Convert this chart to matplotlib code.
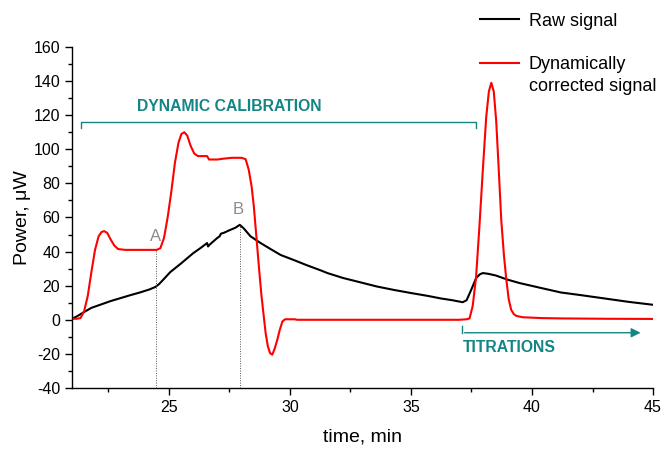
import matplotlib
matplotlib.use('Agg')

import matplotlib.pyplot as plt
from matplotlib.ticker import MultipleLocator

plt.rcParams['font.family'] = ['Liberation Sans', 'DejaVu Sans']
plt.rcParams['axes.unicode_minus'] = False

# === Data ===
red_t = [21.0, 21.2, 21.35, 21.5, 21.65, 21.8, 21.95, 22.1, 22.22, 22.33, 22.45, 22.6, 22.75, 22.9,
         23.2, 24.0, 24.5, 24.65, 24.8, 24.95, 25.1, 25.25, 25.4, 25.52, 25.64, 25.76, 25.9, 26.05,
         26.2, 26.4, 26.58, 26.62, 26.66, 27.0, 27.26, 27.6, 28.0, 28.17, 28.3, 28.42, 28.51, 28.62,
         28.72, 28.82, 28.92, 29.0, 29.09, 29.18, 29.27, 29.37, 29.48, 29.58, 29.69, 29.8, 29.9,
         30.2, 30.3, 33.0, 37.0, 37.3, 37.42, 37.55, 37.69, 37.83, 37.97, 38.11, 38.22, 38.32,
         38.42, 38.52, 38.62, 38.73, 38.84, 38.94, 39.04, 39.14, 39.25, 39.35, 39.6, 40.4, 41.2,
         43.0, 45.0]
red_v = [0.6, 0.6, 1.0, 5, 14, 28, 41, 49, 51.5, 52, 51, 47, 43.5, 41.5,
         41, 41, 41, 42, 48, 60, 75, 92, 104, 109, 110, 108, 102, 97.5,
         96, 96, 96, 95, 94, 94, 94.5, 95, 95, 94.2, 88, 78, 66.5, 48,
         31, 15, 2, -8, -15.6, -19.5, -20.5, -17, -11.7, -6, -1, 0.3, 0.3,
         0.3, 0, 0, 0, 0.3, 0.8, 8, 25, 55, 88, 119, 134, 139,
         134, 117, 90, 58.7, 38, 23.5, 12, 5.9, 3.3, 2.3, 1.5, 1, 0.8,
         0.6, 0.5]

raw_t = [21.0, 21.2, 21.47, 21.8, 22.2, 22.6, 23.0, 23.4, 23.8, 24.2, 24.45, 24.6, 24.8, 25.06,
         25.5, 26.0, 26.3, 26.58, 26.62, 26.68, 26.8, 27.0, 27.1, 27.15, 27.27, 27.5, 27.75, 27.93,
         28.1, 28.37, 28.79, 29.2, 29.62, 30.17, 30.7, 31.27, 31.55, 32.2, 32.93, 33.6, 34.3, 35.0,
         35.7, 36.24, 36.7, 37.14, 37.3, 37.49, 37.69, 37.85, 37.97, 38.18, 38.5, 39.0, 39.5, 40.39,
         41.2, 42.0, 42.5, 43.0, 44.0, 45.0]
raw_v = [0.6, 2, 4.3, 7, 9, 11, 12.7, 14.4, 16, 17.8, 19.3, 21, 24, 28,
         33, 39, 42, 45, 43, 44, 45.5, 48, 49, 50.5, 51, 52.5, 54, 55.7,
         53.5, 49, 45, 41.5, 38, 35, 32, 29, 27.4, 24.5, 21.9, 19.5, 17.5, 15.7,
         14, 12.5, 11.5, 10.3, 11.5, 17.6, 24.4, 26.7, 27.4, 27, 26, 23.5, 21.5, 18.6,
         16, 14.5, 13.5, 12.5, 10.5, 8.8]

# points A and B (time, value where the dotted line stops)
point_a = (24.48, 41)
point_b = (27.93, 55.7)

teal = '#138585'

# === Figure ===
fig = plt.figure(figsize=(6.65, 4.5), dpi=100)
ax = fig.add_axes([0.1083, 0.1378, 0.8737, 0.7578])

ax.plot(raw_t, raw_v, color='black', lw=1.5, label='Raw signal')
ax.plot(red_t, red_v, color='red', lw=1.5, label='Dynamically')

# dotted markers for A and B
ax.plot([point_a[0], point_a[0]], [-40, point_a[1]], color='#555555', lw=0.7, ls=(0, (1, 1.5)))
ax.plot([point_b[0], point_b[0]], [-40, point_b[1]], color='#555555', lw=0.7, ls=(0, (1, 1.5)))
ax.text(point_a[0] - 0.05, 49, 'A', color='#8c8c8c', fontsize=12, ha='center', va='center')
ax.text(point_b[0] - 0.05, 64.5, 'B', color='#8c8c8c', fontsize=12, ha='center', va='center')

# dynamic calibration bracket
ax.plot([21.37, 21.37, 37.69, 37.69], [112.5, 116, 116, 112.5], color=teal, lw=1.0)
ax.text(27.5, 125, 'DYNAMIC CALIBRATION', color=teal, fontsize=11.3, fontweight='bold',
        ha='center', va='center')

# titrations arrow
ax.plot([37.1, 37.1], [-3.5, -7.6], color=teal, lw=1.0)
ax.annotate('', xy=(44.6, -7.6), xytext=(37.1, -7.6),
            arrowprops=dict(arrowstyle='-|>', color=teal, lw=1.0, mutation_scale=14))
ax.text(37.15, -16.5, 'TITRATIONS', color=teal, fontsize=11.3, fontweight='bold',
        ha='left', va='center')

# === Axes styling ===
ax.set_xlim(21, 45)
ax.set_ylim(-40, 160)
ax.xaxis.set_major_locator(MultipleLocator(5))
ax.xaxis.set_minor_locator(MultipleLocator(2.5))
ax.yaxis.set_major_locator(MultipleLocator(20))
ax.yaxis.set_minor_locator(MultipleLocator(10))
for s in ['top', 'right']:
    ax.spines[s].set_visible(False)
for s in ['left', 'bottom']:
    ax.spines[s].set_linewidth(1.0)
ax.tick_params(which='major', direction='out', length=5, width=1.0, labelsize=11.5)
ax.tick_params(which='minor', direction='out', length=3, width=1.0)
ax.set_xlabel('time, min', fontsize=14, labelpad=10)
ax.set_ylabel('Power, μW', fontsize=14, labelpad=1.5)

leg = fig.legend(loc='upper left', bbox_to_anchor=(0.697, 1.008), frameon=False, fontsize=13,
                 handlelength=2.2, handletextpad=0.5, labelspacing=1.45)

# second line of the red label, placed under "Dynamically"
fig.canvas.draw()
bb = leg.get_texts()[1].get_window_extent()
fig.text(bb.x0 / fig.bbox.width, (bb.y0 - 22) / fig.bbox.height, 'corrected signal',
         fontsize=13, ha='left', va='bottom')

fig.savefig('out.png', dpi=100)
